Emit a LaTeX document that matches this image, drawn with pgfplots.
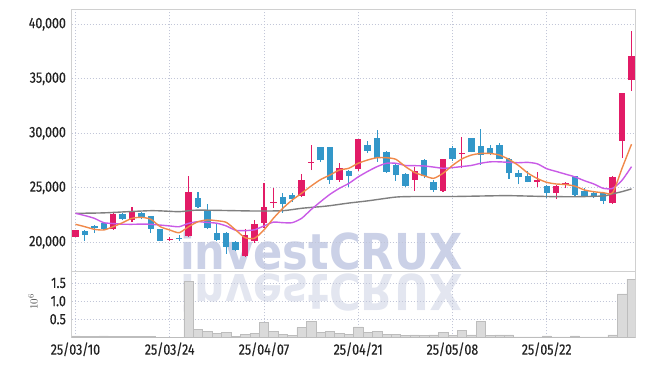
\documentclass[border=0pt]{standalone}
\usepackage{pgfplots}
\pgfplotsset{compat=1.18}
\usepackage{pgfplotstable}
\usepackage{graphicx}
\usepackage{fontspec}
\setmainfont{Fira Sans}[FakeStretch=0.83, FakeBold=0.4]
\newfontfamily\wmfont{DejaVu Sans}
\definecolor{upc}{HTML}{E21B66}
\definecolor{dnc}{HTML}{3397C9}
\definecolor{maA}{HTML}{F0894A}
\definecolor{maB}{HTML}{C95BE6}
\definecolor{maC}{HTML}{7F7F7F}
\definecolor{gridc}{HTML}{C2C6D8}
\definecolor{axc}{HTML}{D0D0D0}
\definecolor{volf}{HTML}{DADADA}
\definecolor{vold}{HTML}{BDBDBD}
\definecolor{wm}{HTML}{CBD1E7}
\definecolor{wmr}{HTML}{E3E6F0}
\definecolor{txt}{HTML}{222222}

\pgfplotstableread{
x o c h l
0 20500 21100 21150 20450
4 21200 22600 22650 21150
6 22050 22870 23250 21870
10 20200 20300 20500 20120
12 20580 24610 26080 20500
18 18740 20670 21220 18650
19 20120 21680 22050 19950
20 21770 23240 25440 21300
21 23600 23700 24980 23150
24 24250 25720 26270 24150
25 27300 27400 28920 26630
28 25720 26790 27300 25560
30 26720 29480 29480 26570
36 25720 26540 26940 24730
39 24700 27610 27650 24640
41 28100 28200 29690 26790
49 25560 25680 26480 25100
51 24500 25190 25250 23950
52 25300 25400 25560 24960
57 23580 26020 26050 23550
58 29320 33720 33720 27760
59 34880 37090 39380 33880
}\uptab

\pgfplotstableread{
x o c h l
1 21050 20650 21100 20100
2 21450 21350 21600 20850
3 21800 21200 21850 21150
5 22600 22150 22700 22000
7 22700 22250 22750 22100
8 22400 21220 22450 20880
9 21200 20120 21250 20100
11 20350 20300 20670 20120
13 24060 23240 24610 23150
14 22960 21310 23510 21200
15 20850 20210 21680 20100
16 20850 19570 20950 18930
17 20030 19300 20100 19200
22 24150 23510 24520 22690
23 24340 23970 24520 23700
26 28740 27540 28740 27360
27 28740 25720 28740 25350
29 26540 26110 26600 25100
31 28930 28400 29320 28220
32 29540 27710 30300 27400
33 28260 26480 28400 26400
34 27090 26170 27250 25650
35 26270 25190 26380 25100
37 27550 26080 27600 25870
38 25500 24800 25690 24630
40 28620 27640 28800 27500
42 29540 28310 29600 28250
43 28830 28010 30370 27090
44 28620 28220 28930 27990
45 28930 27640 29140 27600
46 27640 26320 27700 25850
47 26320 25950 26630 25320
48 26110 25560 26540 25500
50 25190 24500 25250 24040
53 26080 24340 26100 24180
54 24730 24250 24950 24200
55 24550 24180 24600 24100
56 24500 23820 24550 23510
}\dntab

\pgfplotstableread{
x v
0 0.04
1 0.02
2 0.02
3 0.04
4 0.02
5 0.02
6 0.02
7 0.02
8 0.02
9 0.005
10 0.005
11 0.005
12 1.55
13 0.22
14 0.17
15 0.11
16 0.14
17 0.03
18 0.08
19 0.11
20 0.41
21 0.17
22 0.08
23 0.05
24 0.27
25 0.44
26 0.14
27 0.16
28 0.11
29 0.08
30 0.29
31 0.13
32 0.16
33 0.08
34 0.08
35 0.05
36 0.07
37 0.05
38 0.07
39 0.13
40 0.05
41 0.20
42 0.07
43 0.43
44 0.05
45 0.07
46 0.07
47 0.01
48 0.01
49 0.01
50 0.04
51 0.01
52 0.01
53 0.04
54 0.01
55 0.01
56 0.01
57 0.07
58 1.20
59 1.61
}\voltab

\begin{document}
\begin{tikzpicture}[x=1pt,y=1pt]
\path[use as bounding box] (0,0) rectangle (645,366);
% watermark
\node[anchor=south west, inner sep=0pt, text=wm] at (180,95.7)
  {\resizebox{282pt}{37.6pt}{\wmfont\bfseries investCRUX}};
\node[anchor=north west, inner sep=0pt, text=wmr] at (180,92.3)
  {\scalebox{1}[-1]{\resizebox{282pt}{37.6pt}{\wmfont\bfseries investCRUX}}};

\pgfplotsset{
  every axis/.append style={
    scale only axis,
    width=563.6pt,
    xmin=-0.4, xmax=59.4,
    xtick={0,10,...,50},
    scaled ticks=false,
    grid=major,
    major grid style={draw=gridc, line width=0.6pt, dash pattern=on 1pt off 2pt},
    axis line style={draw=axc, line width=0.8pt},
    tick style={draw=none},
    font=\fontsize{15}{15}\selectfont,
    text=txt,
    yticklabel style={anchor=east, inner sep=0pt, xshift=-5.6pt},
    xticklabel style={anchor=north, inner sep=0pt, yshift=-5pt},
  }
}

\begin{axis}[name=main, at={(71.7pt,94.5pt)}, anchor=south west,
  height=262.2pt,
  ymin=17321, ymax=41375,
  ytick={20000,25000,30000,35000,40000},
  yticklabels={{20,000},{25,000},{30,000},{35,000},{40,000}},
  xticklabels={},
]
% wicks
\addplot[draw=none, mark=none, error bars/.cd, y dir=plus, y explicit, error mark=none,
  error bar style={draw=dnc, line width=1.1pt}]
  table[x=x, y=l, y error expr=\thisrow{h}-\thisrow{l}] {\dntab};
\addplot[draw=none, mark=none, error bars/.cd, y dir=plus, y explicit, error mark=none,
  error bar style={draw=upc, line width=1.1pt}]
  table[x=x, y=l, y error expr=\thisrow{h}-\thisrow{l}] {\uptab};
% bodies
\addplot[draw=none, mark=none, error bars/.cd, y dir=plus, y explicit, error mark=none,
  error bar style={draw=dnc, line width=6.4pt}]
  table[x=x, y=c, y error expr=\thisrow{o}-\thisrow{c}] {\dntab};
\addplot[draw=none, mark=none, error bars/.cd, y dir=plus, y explicit, error mark=none,
  error bar style={draw=upc, line width=6.4pt}]
  table[x=x, y=o, y error expr=\thisrow{c}-\thisrow{o}] {\uptab};
% moving averages
\addplot[maC, line width=1.4pt, smooth, tension=0.4] coordinates {
(0,22660) (3,22700) (8,22900) (11,22810) (13,22950) (19,22870) (22,22900)
(24,23120) (26,23270) (27,23360) (29,23600) (31,23800) (34,24150) (36,24200)
(40,24200) (44,24260) (46,24280) (50,24200) (53,24180) (56,24250) (57,24450)
(58,24650) (59,24900)};
\addplot[maB, line width=1.4pt, smooth, tension=0.4] coordinates {
(0,22660) (1,22450) (2,22200) (3,21800) (4,21720) (5,21660) (6,21650) (7,21670)
(8,21650) (9,21580) (10,21500) (11,21430) (12,21740) (13,21890) (14,21820)
(15,21750) (16,21500) (17,21100) (18,21070) (19,21150) (20,21500) (21,21850)
(22,21800) (23,21800) (24,22200) (25,23000) (26,23720) (27,24400) (28,24950)
(29,25400) (30,26000) (31,26500) (32,26940) (33,27250) (34,27250) (35,27050)
(36,27030) (37,27000) (38,26900) (39,26790) (40,26850) (41,26950) (42,27050)
(43,27250) (44,27380) (45,27380) (46,27330) (47,27300) (48,27330) (49,27200)
(50,26750) (51,26500) (52,26250) (53,26000) (54,25650) (55,25350) (56,24950)
(57,24950) (58,25700) (59,26940)};
\addplot[maA, line width=1.4pt, smooth, tension=0.4] coordinates {
(0,21650) (1,21430) (2,21190) (3,21130) (4,21430) (5,21800) (6,22200) (7,22290)
(8,22110) (9,21430) (10,21130) (11,20880) (12,21430) (13,21890) (14,22050)
(15,21980) (16,21830) (17,21130) (18,20420) (19,20370) (20,21130) (21,22200)
(22,23120) (23,23880) (24,24500) (25,25160) (26,25750) (27,26170) (28,26630)
(29,26790) (30,27250) (31,27550) (32,27760) (33,27760) (34,27610) (35,26950)
(36,26400) (37,26100) (38,25870) (39,26330) (40,27050) (41,27650) (42,28000)
(43,28150) (44,28150) (45,28000) (46,27600) (47,27050) (48,26350) (49,25850)
(50,25500) (51,25350) (52,25300) (53,25150) (54,24800) (55,24640) (56,24550)
(57,24550) (58,26800) (59,29000)};
\end{axis}

\begin{axis}[at={(main.south west)}, anchor=north west,
  height=65.8pt,
  ymin=0, ymax=1.818,
  ytick={0.5,1,1.5},
  yticklabels={0.5,1.0,1.5},
  xticklabels={25/03/10,25/03/24,25/04/07,25/04/21,25/05/08,25/05/22},
]
\addplot[ybar, bar width=1, fill=volf, draw=vold, line width=0.5pt]
  table[x=x, y=v] {\voltab};
\end{axis}

\node[rotate=90, inner sep=0pt, text=txt!80] at (33,64) {\fontsize{11}{11}\selectfont $10^{6}$};
\end{tikzpicture}
\end{document}
